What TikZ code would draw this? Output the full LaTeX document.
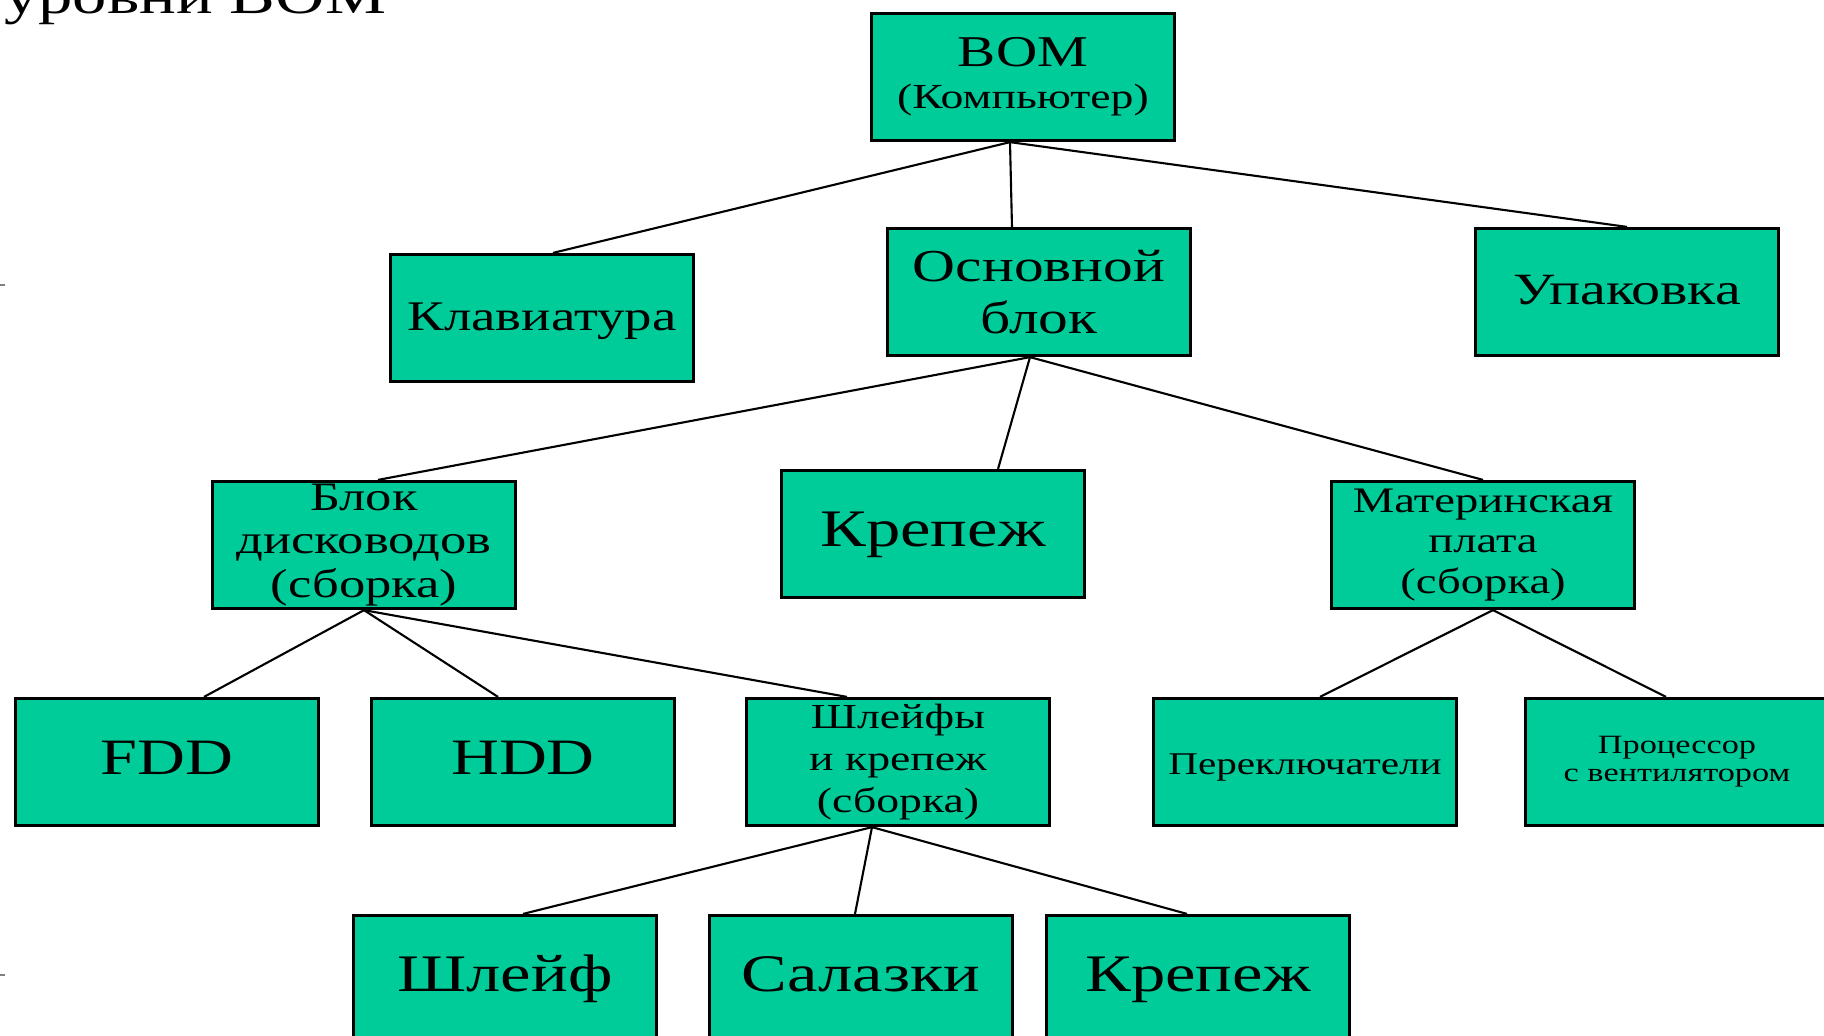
\documentclass[tikz,border=0pt]{standalone}
\usepackage{fontspec}
\setmainfont{Liberation Serif}[FakeStretch=1.3]
\usetikzlibrary{positioning}
\definecolor{bgreen}{HTML}{00CC99}
\newcommand{\bsz}[2]{\fontsize{#1}{#2}\selectfont}

\begin{document}
\begin{tikzpicture}[x=0.01cm,y=-0.01cm,
  blok/.style={draw=black, line width=0.9pt, fill=bgreen, minimum width=3.03cm,
    minimum height=1.27cm, inner sep=0pt, align=center},
  odna/.style={text height=0.78em, text depth=0.08em},
  svyaz/.style={black, line width=0.6pt}]
 \clip (0,0) rectangle (1824,1035);
 \node[anchor=base east, inner sep=0pt, font=\bsz{15}{18}] (titul) at (387,13) {уровни BOM};
 \draw[gray, line width=0.8pt] (0,285) -- (5,285);
 \draw[gray, line width=0.8pt] (0,975) -- (5,975);
 % level 0
 \node[blok] (bom) at (1023,77) {{\bsz{12.5}{15}BOM}\\{\bsz{10}{12}(Компьютер)}};
 % level 1
 \node[blok, odna, font=\bsz{12}{14}] (klav) at (542,318) {Клавиатура};
 \node[blok, font=\bsz{13}{15}] (osn) at (1039,292) {Основной\\блок};
 \node[blok, odna, font=\bsz{12.7}{15}] (upak) at (1627,292) {Упаковка};
 % level 2
 \node[blok, font=\bsz{11.5}{12.4}] (bdisk) at (364,545) {Блок\\дисководов\\(сборка)};
 \node[blok, odna, font=\bsz{15}{18}] (krep) at (933,534) {Крепеж};
 \node[blok, font=\bsz{10.2}{11.5}] (mplata) at (1483,545) {Материнская\\плата\\(сборка)};
 % level 3
 \node[blok, odna, font=\bsz{14.5}{17}] (fdd) at (167,762) {FDD};
 \node[blok, odna, font=\bsz{14.5}{17}] (hdd) at (523,762) {HDD};
 \node[blok, font=\bsz{10}{12}] (shlsb) at (898,762) {Шлейфы\\и крепеж\\(сборка)};
 \node[blok, odna, font=\bsz{9}{11}] (perekl) at (1305,762) {Переключатели};
 \node[blok, font=\bsz{7.5}{8}] (proc) at (1677,762) {Процессор\\с вентилятором};
 % level 4
 \node[blok, odna, font=\bsz{15}{18}] (shl) at (505,979) {Шлейф};
 \node[blok, odna, font=\bsz{15}{18}] (sal) at (861,979) {Салазки};
 \node[blok, odna, font=\bsz{15}{18}] (krepb) at (1198,979) {Крепеж};
 % connectors
 \draw[svyaz] ([xshift=-0.13cm]bom.south) -- ([xshift=0.11cm]klav.north);
 \draw[svyaz] ([xshift=-0.13cm]bom.south) -- ([xshift=-0.27cm]osn.north);
 \draw[svyaz] ([xshift=-0.13cm]bom.south) -- (upak.north);
 \draw[svyaz] ([xshift=-0.09cm]osn.south) -- ([xshift=0.14cm]bdisk.north);
 \draw[svyaz] ([xshift=-0.09cm]osn.south) -- ([xshift=0.65cm]krep.north);
 \draw[svyaz] ([xshift=-0.09cm]osn.south) -- (mplata.north);
 \draw[svyaz] (bdisk.south) -- ([xshift=0.37cm]fdd.north);
 \draw[svyaz] (bdisk.south) -- ([xshift=-0.25cm]hdd.north);
 \draw[svyaz] (bdisk.south) -- ([xshift=-0.51cm]shlsb.north);
 \draw[svyaz] ([xshift=0.1cm]mplata.south) -- ([xshift=0.15cm]perekl.north);
 \draw[svyaz] ([xshift=0.1cm]mplata.south) -- ([xshift=-0.11cm]proc.north);
 \draw[svyaz] ([xshift=-0.26cm]shlsb.south) -- ([xshift=0.18cm]shl.north);
 \draw[svyaz] ([xshift=-0.26cm]shlsb.south) -- ([xshift=-0.06cm]sal.north);
 \draw[svyaz] ([xshift=-0.26cm]shlsb.south) -- ([xshift=-0.11cm]krepb.north);
\end{tikzpicture}
\end{document}
